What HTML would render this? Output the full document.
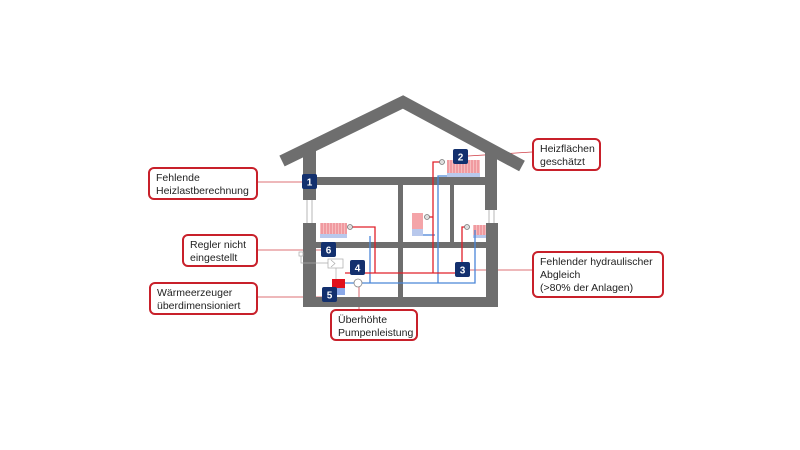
<!DOCTYPE html>
<html><head><meta charset="utf-8"><style>
html,body{margin:0;padding:0;background:#fff;}
body{width:800px;height:450px;position:relative;overflow:hidden;font-family:"Liberation Sans",sans-serif;}
.b{position:absolute;border:2px solid #c8202a;border-radius:6px;background:#fff;font-size:10.5px;line-height:13px;color:#222;padding:3px 6px;box-sizing:border-box;}
</style></head><body>
<svg width="800" height="450" style="position:absolute;left:0;top:0">
<defs>
<pattern id="rad" width="3" height="10" patternUnits="userSpaceOnUse"><rect width="3" height="10" fill="#f7c4c6"/><rect width="2.2" height="10" fill="#f09aa0"/></pattern>
</defs>
<g stroke="#d04048" stroke-width="0.8">
<line x1="258" y1="182" x2="304" y2="182"/>
<line x1="258" y1="250" x2="322" y2="250"/>
<line x1="258" y1="297" x2="324" y2="297"/>
<line x1="468" y1="156" x2="532" y2="152"/>
<line x1="470" y1="270" x2="532" y2="270"/>
<line x1="359" y1="286" x2="359" y2="309"/>
</g>
<polyline points="282,161 403,102 522,166" fill="none" stroke="#6e6e6e" stroke-width="12" stroke-linejoin="miter"/>
<g fill="#6e6e6e">
<rect x="303" y="150" width="13" height="50"/>
<rect x="485" y="150" width="12" height="60"/>
<rect x="303" y="223" width="13" height="84"/>
<rect x="486" y="223" width="12" height="84"/>
<rect x="303" y="177" width="194" height="8"/>
<rect x="303" y="242" width="195" height="6"/>
<rect x="303" y="297" width="195" height="10"/>
<rect x="398" y="185" width="5" height="112"/>
<rect x="450" y="185" width="4" height="57"/>
</g>
<g stroke="#999" stroke-width="0.7">
<line x1="307" y1="200" x2="307" y2="223"/><line x1="312" y1="200" x2="312" y2="223"/>
<line x1="489" y1="210" x2="489" y2="223"/><line x1="494" y1="210" x2="494" y2="223"/>
</g>
<rect x="447" y="160" width="33" height="13" fill="url(#rad)"/><rect x="447" y="173" width="33" height="4" fill="#b8c8ec"/>
<rect x="320" y="223" width="27" height="11" fill="url(#rad)"/><rect x="320" y="234" width="27" height="4" fill="#b8c8ec"/>
<rect x="412" y="213" width="11" height="16" fill="#f4a4a8"/><rect x="412" y="229" width="11" height="7" fill="#b8c8ec"/>
<rect x="473" y="225" width="13" height="10" fill="url(#rad)"/><rect x="473" y="235" width="13" height="3" fill="#b8c8ec"/>
<g fill="none" stroke="#4a86d8" stroke-width="1.3">
<polyline points="345,283 475,283 475,230"/>
<polyline points="370,236 370,283"/>
<polyline points="438,283 438,176 447,176"/>
<polyline points="423,235 435,235"/>
</g>
<g fill="none" stroke="#e0202a" stroke-width="1.3">
<polyline points="345,273 462,273 462,227 467,227"/>
<polyline points="350,227 375,227 375,273"/>
<polyline points="433,273 433,162 442,162"/>
<polyline points="427,217 433,217"/>
</g>
<g fill="#ddd" stroke="#777" stroke-width="0.8">
<circle cx="442" cy="162" r="2.5"/><circle cx="350" cy="227" r="2.5"/><circle cx="427" cy="217" r="2.5"/><circle cx="467" cy="227" r="2.5"/>
</g>
<g fill="none" stroke="#aaa" stroke-width="0.7">
<rect x="299" y="252" width="4" height="4"/>
<polyline points="301,256 301,263 328,263"/>
<rect x="328" y="259" width="15" height="9"/>
<polyline points="331,260 335,263.5 331,267"/>
<line x1="336" y1="268" x2="336" y2="279"/>
</g>
<rect x="332" y="279" width="13" height="9" fill="#e0101c"/><rect x="332" y="288" width="13" height="7" fill="#8aa8e8"/>
<circle cx="358" cy="283" r="4" fill="#fff" stroke="#888" stroke-width="0.8"/>
<g fill="#13306e">
<rect x="302" y="174" width="15" height="15" rx="2"/>
<rect x="453" y="149" width="15" height="15" rx="2"/>
<rect x="321" y="242" width="15" height="15" rx="2"/>
<rect x="350" y="260" width="15" height="15" rx="2"/>
<rect x="455" y="262" width="15" height="15" rx="2"/>
<rect x="322" y="287" width="15" height="15" rx="2"/>
</g>
<g fill="#fff" font-family="Liberation Sans" font-weight="bold" font-size="10" text-anchor="middle">
<text x="309.5" y="185.5">1</text><text x="460.5" y="160.5">2</text><text x="328.5" y="253.5">6</text>
<text x="357.5" y="271.5">4</text><text x="462.5" y="273.5">3</text><text x="329.5" y="298.5">5</text>
</g>
</svg>
<div class="b" style="left:148px;top:167px;width:110px;height:33px">Fehlende<br>Heizlastberechnung</div>
<div class="b" style="left:182px;top:234px;width:76px;height:33px">Regler nicht<br>eingestellt</div>
<div class="b" style="left:149px;top:282px;width:109px;height:33px">Wärmeerzeuger<br>überdimensioniert</div>
<div class="b" style="left:532px;top:138px;width:69px;height:33px">Heizflächen<br>geschätzt</div>
<div class="b" style="left:532px;top:251px;width:132px;height:47px">Fehlender hydraulischer<br>Abgleich<br>(&gt;80% der Anlagen)</div>
<div class="b" style="left:330px;top:309px;width:88px;height:32px">Überhöhte<br>Pumpenleistung</div>
</body></html>
